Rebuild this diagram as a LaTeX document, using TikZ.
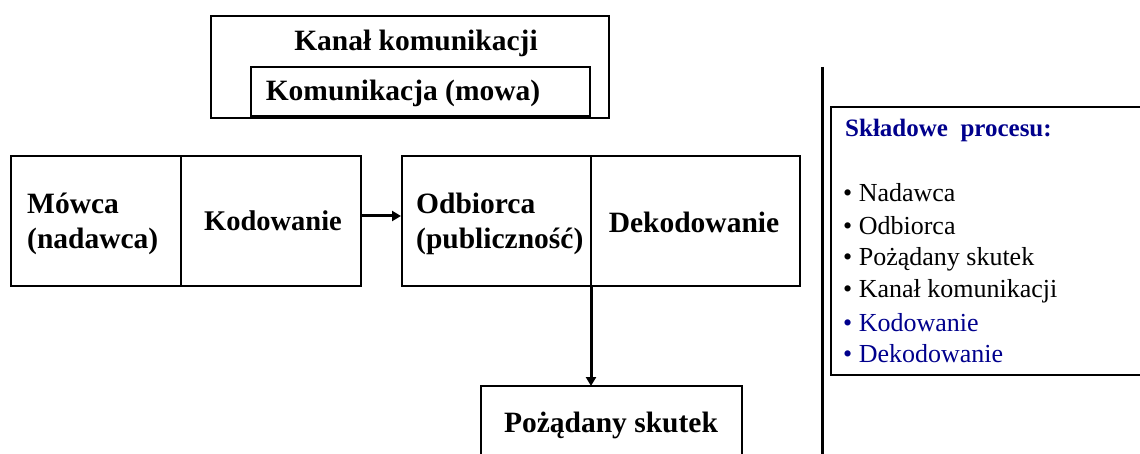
\documentclass[tikz,border=0pt]{standalone}
\usepackage{fontspec}
\setmainfont{Liberation Serif}
\usetikzlibrary{arrows.meta}
\definecolor{navy}{RGB}{0,0,140}
\begin{document}
\begin{tikzpicture}[x=1pt,y=-1pt,
  frame/.style={draw=black,line width=2pt},
  bold/.style={font=\fontsize{29.5}{35}\selectfont\bfseries,inner sep=0pt},
  item/.style={font=\fontsize{26}{30}\selectfont,inner sep=0pt,anchor=west},
  flow/.style={line width=3pt,-{Triangle[length=9pt,width=10pt]}}]
\useasboundingbox (0,0) rectangle (1140,454);
\clip (0,0) rectangle (1140,454);
% channel box with the nested speech box
\draw[frame] (211,16) rectangle (609,118);
\draw[frame] (251,67) rectangle (590,116);
\node[bold] (kanal) at (416,43) {Kanał komunikacji};
\node[bold] (mowa) at (403,93) {Komunikacja (mowa)};
% sender block
\draw[frame] (11,156) rectangle (361,286);
\draw[frame] (181,156) -- (181,286);
\coordinate (sendR) at (361,216);
\node[bold,align=left,anchor=west] (mowca) at (27,224) {Mówca\\(nadawca)};
\node[bold,font=\fontsize{28.5}{34}\selectfont\bfseries] (kod) at (273,221) {Kodowanie};
% receiver block
\draw[frame] (402,156) rectangle (800,286);
\draw[frame] (591,156) -- (591,286);
\coordinate (recvL) at (401,216);
\coordinate (recvB) at (591,286);
\node[bold,align=left,anchor=west] (odb) at (416,224) {Odbiorca\\(publiczność)};
\node[bold] (dekod) at (694,222) {Dekodowanie};
% desired effect
\draw[frame] (481,386) rectangle (742,470);
\coordinate (effT) at (591,386);
\node[bold] (skutek) at (611,425) {Pożądany skutek};
% connectors
\draw[flow] (sendR) -- (recvL);
\draw[flow] (recvB) -- (effT);
% separator line
\draw[line width=3pt] (822,67) -- (822,460);
% list of components
\draw[frame] (831,107) rectangle (1150,375);
\node[font=\fontsize{25}{30}\selectfont\bfseries,text=navy,inner sep=0pt,anchor=west] (title) at (845,130) {Składowe\ \ procesu:};
\node[item] (i1) at (843,193) {• Nadawca};
\node[item] (i2) at (843,226) {• Odbiorca};
\node[item] (i3) at (843,259) {• Pożądany skutek};
\node[item] (i4) at (843,291) {• Kanał komunikacji};
\node[item,text=navy] (i5) at (843,323) {• Kodowanie};
\node[item,text=navy] (i6) at (843,354) {• Dekodowanie};
\end{tikzpicture}
\end{document}
